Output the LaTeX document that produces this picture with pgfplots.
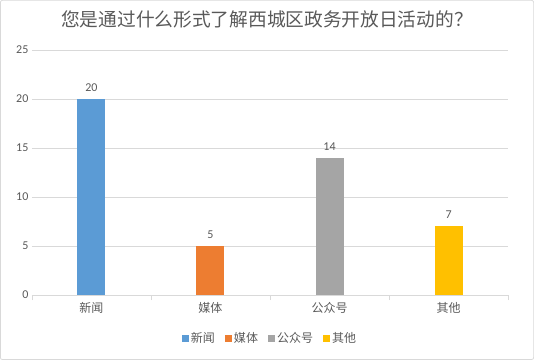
\documentclass[border=0pt]{standalone}
\usepackage{pgfplots}
\pgfplotsset{compat=1.18}
\usepackage{fontspec}
\setmainfont{Carlito}
\newfontfamily\cjk{Noto Sans CJK SC}
\definecolor{txt}{HTML}{595959}
\definecolor{gridc}{HTML}{D9D9D9}
\definecolor{c1}{HTML}{5B9BD5}
\definecolor{c2}{HTML}{ED7D31}
\definecolor{c3}{HTML}{A5A5A5}
\definecolor{c4}{HTML}{FFC000}
\begin{document}
\begin{tikzpicture}[x=1bp,y=1bp]
\draw[gridc, line width=0.75bp, rounded corners=2bp] (0.5,0.5) rectangle (533.5,359.5);
\node[txt, font=\cjk\fontsize{18.7bp}{20bp}\selectfont] at (267,340) {您是通过什么形式了解西城区政务开放日活动的？};
\begin{axis}[at={(32bp,65bp)}, anchor=south west, scale only axis,
  width=476bp, height=245bp,
  xmin=-0.5, xmax=3.5, ymin=0, ymax=25,
  ytick={0,5,...,25}, xtick={0,1,2,3},
  xticklabels={新闻,媒体,公众号,其他},
  x tick label style={font=\cjk\fontsize{12bp}{14bp}\selectfont, text=txt},
  y tick label style={font=\fontsize{12bp}{14bp}\selectfont, text=txt},
  /pgf/number format/assume math mode=true,
  axis x line*=bottom, axis y line*=left,
  y axis line style={draw=none},
  x axis line style={gridc, line width=0.75bp},
  ymajorgrids, grid style={gridc, line width=0.75bp},
  major y tick style={draw=none},
  major x tick style={draw=none},
  extra x ticks={-0.5,0.5,1.5,2.5,3.5},
  extra x tick labels={},
  extra x tick style={grid=none, tick align=outside, major tick length=5bp, major x tick style={draw=gridc, line width=0.75bp}},
  ybar, bar width=28bp, bar shift=0pt,
  nodes near coords,
  every node near coord/.append style={font=\fontsize{12bp}{14bp}\selectfont, text=txt, yshift=4bp},
  legend style={at={(0.5,-0.1755)}, anchor=center, draw=none, fill=none,
    legend columns=4, font=\cjk\fontsize{12bp}{14bp}\selectfont, text=txt,
    /tikz/every even column/.append style={column sep=8bp}},
  legend image code/.code={\fill[#1, draw=none] (0bp,-3.5bp) rectangle (7bp,3.5bp);},
  clip=false,
]
\addplot[fill=c1, draw=none] coordinates {(0,20)};
\addplot[fill=c2, draw=none] coordinates {(1,5)};
\addplot[fill=c3, draw=none] coordinates {(2,14)};
\addplot[fill=c4, draw=none] coordinates {(3,7)};
\legend{新闻,媒体,公众号,其他}
\end{axis}
\end{tikzpicture}
\end{document}
